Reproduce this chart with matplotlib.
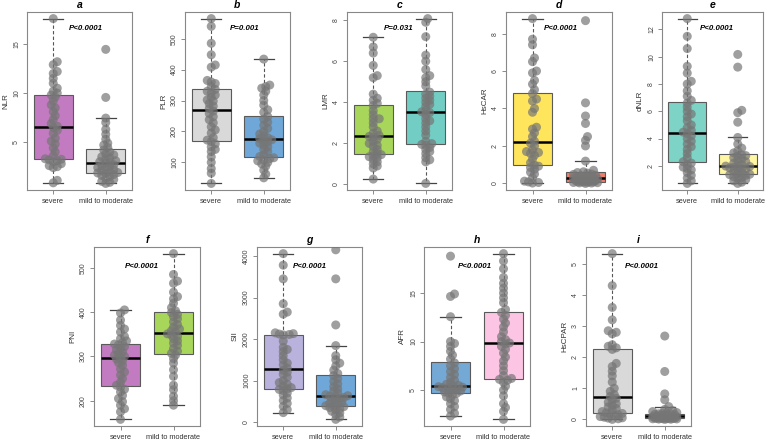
import numpy as np
import matplotlib
matplotlib.use('Agg')
from matplotlib import pyplot as plt

plt.rcParams['font.family'] = ['Liberation Sans', 'DejaVu Sans']

groups = ['severe', 'mild to moderate']

# values (severe, mild to moderate)
nlr_sev = [0.85, 1.1, 2.4, 2.5, 2.6, 2.8, 3.0, 3.1, 3.2, 3.25, 3.3, 3.6, 4.0, 4.4, 4.8, 5.1, 5.4, 5.9, 6.2, 6.5,
           6.62, 6.9, 7.3, 7.7, 8.1, 8.5, 8.8, 9.2, 9.6, 9.8, 10.0, 10.2, 10.5, 11.0, 11.5, 12.0, 12.2, 12.9, 13.2, 17.6]
nlr_mild = [0.79, 0.9, 1.0, 1.2, 1.3, 1.5, 1.6, 1.7, 1.8, 1.85, 1.9, 2.0, 2.1, 2.2, 2.3, 2.4, 2.5, 2.6, 2.7, 2.85,
            2.93, 3.0, 3.1, 3.3, 3.4, 3.5, 3.7, 3.8, 4.0, 4.2, 4.45, 4.7, 4.9, 5.3, 5.8, 6.3, 7.0, 7.45, 9.56, 14.46]

plr_sev = [32, 65, 80, 100, 118, 135, 142, 150, 160, 167, 172, 180, 195, 205, 215, 228, 238, 248, 258, 266,
           274, 282, 290, 298, 302, 310, 318, 325, 330, 336, 345, 355, 360, 365, 408, 415, 448, 485, 540, 565]
plr_mild = [50, 62, 75, 88, 95, 100, 105, 108, 112, 115, 119, 125, 135, 142, 150, 156, 162, 166, 170, 173,
            177, 180, 185, 192, 200, 210, 220, 230, 240, 248, 262, 270, 285, 300, 318, 330, 340, 345, 350, 434]

lmr_sev = [0.26, 0.8, 0.9, 1.0, 1.1, 1.2, 1.3, 1.35, 1.4, 1.45, 1.5, 1.6, 1.7, 1.85, 1.9, 2.0, 2.1, 2.2, 2.3, 2.34,
           2.38, 2.5, 2.6, 2.8, 3.0, 3.2, 3.2, 3.4, 3.6, 3.85, 3.95, 4.1, 4.2, 4.4, 5.2, 5.3, 5.8, 6.4, 6.7, 7.17]
lmr_mild = [0.05, 1.1, 1.2, 1.3, 1.5, 1.6, 1.7, 1.8, 1.9, 1.95, 1.99, 2.1, 2.4, 2.6, 2.8, 3.0, 3.1, 3.2, 3.4, 3.5,
            3.54, 3.6, 3.8, 3.9, 4.0, 4.1, 4.2, 4.3, 4.4, 4.5, 4.8, 5.0, 5.2, 5.3, 5.6, 6.0, 6.3, 7.2, 7.9, 8.08]

hscar_sev = [0.02, 0.05, 0.08, 0.12, 0.3, 0.5, 0.6, 0.75, 0.85, 0.92, 0.98, 1.1, 1.3, 1.5, 1.6, 1.65, 1.7, 1.8, 2.0, 2.15,
             2.25, 2.5, 2.7, 2.9, 3.0, 3.8, 4.0, 4.4, 4.5, 4.8, 5.0, 5.3, 5.5, 5.9, 6.0, 6.5, 6.7, 7.4, 7.7, 8.8]
hscar_mild = [0.0, 0.02, 0.03, 0.04, 0.05, 0.06, 0.07, 0.08, 0.08, 0.09, 0.1, 0.12, 0.14, 0.16, 0.18, 0.2, 0.22, 0.24,
              0.25, 0.26, 0.28, 0.3, 0.33, 0.36, 0.4, 0.44, 0.48, 0.5, 0.55, 0.58, 0.62, 0.7, 1.19, 2.0, 2.3, 2.5,
              3.2, 3.6, 4.3, 8.69]

dnlr_sev = [0.71, 0.9, 1.1, 1.3, 1.5, 1.7, 1.8, 1.9, 2.1, 2.2, 2.3, 2.6, 2.9, 3.2, 3.4, 3.6, 3.8, 4.0, 4.2, 4.35,
            4.47, 4.6, 4.8, 5.0, 5.3, 5.6, 5.8, 6.0, 6.3, 6.6, 6.8, 7.1, 7.5, 8.0, 8.2, 8.8, 9.3, 10.6, 11.5, 12.8]
dnlr_mild = [0.71, 0.8, 0.9, 1.0, 1.1, 1.15, 1.2, 1.3, 1.35, 1.38, 1.4, 1.5, 1.6, 1.7, 1.75, 1.8, 1.85, 1.9, 1.95,
             1.98, 2.02, 2.1, 2.2, 2.3, 2.4, 2.5, 2.6, 2.7, 2.75, 2.8, 2.95, 3.1, 3.3, 3.6, 4.08, 5.2, 5.9, 6.07,
             9.24, 10.17]

pni_sev = [158, 175, 182, 190, 198, 205, 212, 220, 226, 231, 235, 242, 250, 258, 265, 272, 280, 286, 290, 294,
           298, 300, 303, 306, 310, 315, 318, 322, 326, 328, 331, 335, 340, 345, 355, 362, 370, 382, 398, 405]
pni_mild = [190, 200, 210, 225, 235, 255, 270, 285, 295, 303, 307, 312, 318, 325, 330, 335, 340, 345, 348, 351,
            355, 358, 362, 366, 372, 378, 385, 390, 395, 399, 403, 410, 420, 430, 435, 445, 465, 470, 485, 532]

sii_sev = [228, 300, 380, 450, 520, 580, 650, 700, 760, 785, 800, 830, 870, 910, 950, 1000, 1080, 1150, 1200, 1250,
           1300, 1380, 1420, 1500, 1600, 1700, 1750, 1800, 1950, 2100, 2110, 2120, 2130, 2150, 2600, 2650, 2850,
           3450, 3780, 4058]
sii_mild = [65, 120, 180, 220, 260, 290, 320, 350, 370, 385, 395, 420, 450, 480, 510, 540, 570, 590, 610, 625,
            635, 660, 700, 750, 800, 850, 920, 980, 1050, 1120, 1170, 1250, 1350, 1420, 1500, 1600, 1842, 2340,
            3450, 4150]

afr_sev = [2.32, 2.6, 3.0, 3.3, 3.6, 3.9, 4.1, 4.3, 4.5, 4.65, 4.7, 4.8, 4.9, 5.0, 5.1, 5.2, 5.25, 5.3, 5.35, 5.42,
           5.48, 5.6, 5.8, 6.0, 6.3, 6.6, 6.9, 7.2, 7.5, 7.8, 8.2, 8.6, 9.0, 9.5, 9.8, 10.0, 12.56, 14.65, 14.9, 18.8]
afr_mild = [1.98, 2.8, 3.2, 3.6, 4.4, 5.0, 5.4, 5.8, 6.0, 6.1, 6.2, 6.5, 7.0, 7.5, 8.0, 8.4, 8.8, 9.2, 9.5, 9.75,
            9.85, 10.0, 10.2, 10.5, 11.0, 11.5, 11.9, 12.3, 12.7, 13.0, 13.3, 14.0, 14.5, 15.0, 15.5, 16.0, 16.6,
            17.5, 18.3, 19.06]

hscpar_sev = [0.0, 0.02, 0.04, 0.05, 0.07, 0.09, 0.12, 0.15, 0.17, 0.19, 0.21, 0.25, 0.3, 0.35, 0.4, 0.45, 0.5, 0.55,
              0.62, 0.68, 0.74, 0.8, 0.9, 1.0, 1.2, 1.4, 1.55, 1.7, 1.8, 2.25, 2.3, 2.35, 2.4, 2.75, 2.8, 2.85,
              3.2, 3.6, 4.3, 5.33]
hscpar_mild = [0.0, 0.005, 0.01, 0.015, 0.02, 0.022, 0.025, 0.028, 0.03, 0.032, 0.035, 0.04, 0.05, 0.06, 0.065,
               0.07, 0.08, 0.085, 0.09, 0.095, 0.105, 0.11, 0.12, 0.13, 0.14, 0.15, 0.16, 0.17, 0.18, 0.185, 0.2,
               0.22, 0.25, 0.28, 0.32, 0.41, 0.63, 0.82, 1.54, 2.68]

letters = ['a', 'b', 'c', 'd', 'e', 'f', 'g', 'h', 'i']
ylabels = ['NLR', 'PLR', 'LMR', 'HsCAR', 'dNLR', 'PNI', 'SII', 'AFR', 'HsCPAR']
pvalues = ['P<0.0001', 'P=0.001', 'P=0.031', 'P<0.0001', 'P<0.0001', 'P<0.0001', 'P<0.0001', 'P<0.0001', 'P<0.0001']
data = [(nlr_sev, nlr_mild), (plr_sev, plr_mild), (lmr_sev, lmr_mild), (hscar_sev, hscar_mild),
        (dnlr_sev, dnlr_mild), (pni_sev, pni_mild), (sii_sev, sii_mild), (afr_sev, afr_mild),
        (hscpar_sev, hscpar_mild)]
yticks = [[5, 10, 15], [100, 200, 300, 400, 500], [0, 2, 4, 6, 8], [0, 2, 4, 6, 8], [2, 4, 6, 8, 10, 12],
          [200, 300, 400, 500], [0, 1000, 2000, 3000, 4000], [5, 10, 15], [0, 1, 2, 3, 4, 5]]

# styling / layout
colors = [('#C27BC0', '#D9D9D9'), ('#D9D9D9', '#6FA8D8'), ('#A8D65A', '#72CEC4'), ('#FFE55C', '#EE7D6E'),
          ('#7DD3C5', '#FFF6A3'), ('#C27BC0', '#A8D65A'), ('#B8B2DD', '#6FA8D8'), ('#74A9D6', '#FCC5E3'),
          ('#D9D9D9', '#D9D9D9')]
# axes boxes in pixels: left, right, top, bottom
boxes_px = [(27, 132, 12, 190), (185, 290, 12, 190), (347, 452, 12, 190), (506, 612, 12, 190),
            (662, 763, 12, 190), (94, 200, 247, 426), (257, 362, 247, 426), (424, 530, 247, 426),
            (586, 691, 247, 426)]
ptext_x = [0.56, 0.57, 0.49, 0.52, 0.54, 0.45, 0.5, 0.48, 0.53]

W, H = 767, 441
fig = plt.figure(figsize=(W / 100, H / 100), dpi=100)


def swarm_x(ax, xc, vals, diam=9.0, maxoff=0.25):
    pts = ax.transData.transform(np.column_stack([np.full(len(vals), xc), vals]))
    ys = pts[:, 1]
    xpx = ax.transData.transform([[1, 0]])[0, 0] - ax.transData.transform([[0, 0]])[0, 0]
    dmin = diam * 0.45
    step = 2.0
    lim = maxoff * xpx
    cands = [0.0]
    j = 1
    while j * step <= lim:
        cands += [j * step, -j * step]
        j += 1
    placed = []
    offs = np.zeros(len(vals))
    for i in np.argsort(ys):
        best, bestd = 0.0, -1
        for o in cands:
            d = min([np.hypot(o - px, ys[i] - py) for px, py in placed] or [1e9])
            if d >= dmin:
                best = o
                break
            if d > bestd:
                best, bestd = o, d
        placed.append((best, ys[i]))
        offs[i] = best
    return xc + offs / xpx


for k in range(9):
    l, r, t, b = boxes_px[k]
    ax = fig.add_axes([l / W, 1 - b / H, (r - l) / W, (b - t) / H])
    sev, mild = data[k]
    bp = ax.boxplot([sev, mild], positions=[1, 2], widths=0.75, patch_artist=True, showfliers=False,
                    whis=1.5, capwidths=0.38,
                    boxprops=dict(edgecolor='#5a5a5a', linewidth=0.8),
                    whiskerprops=dict(color='#555555', linewidth=0.8, linestyle=(0, (3, 2))),
                    capprops=dict(color='#444444', linewidth=0.9),
                    medianprops=dict(color='black', linewidth=1.8))
    for patch, c in zip(bp['boxes'], colors[k]):
        patch.set_facecolor(c)
    wy = np.concatenate([w.get_ydata() for w in bp['whiskers']])
    lo, hi = wy.min(), wy.max()
    pad = 0.04 * (hi - lo)
    ax.set_ylim(lo - pad, hi + pad)
    ax.set_xlim(0.5, 2.5)

    for xc, vals in zip([1, 2], [sev, mild]):
        xs = swarm_x(ax, xc, vals)
        ax.scatter(xs, vals, s=42, color='#767676', alpha=0.7, edgecolors='none', zorder=4)

    ax.set_yticks(yticks[k])
    ax.set_xticks([1, 2])
    ax.set_xticklabels(groups, fontsize=5.3, color='#333333')
    ax.tick_params(axis='y', labelsize=5, labelcolor='#444444', color='#777777', length=3, width=0.6, pad=2)
    ax.tick_params(axis='x', color='#777777', length=3, width=0.6, pad=3)
    for lab in ax.get_yticklabels():
        lab.set_rotation(90)
        lab.set_va('center')
    for s in ax.spines.values():
        s.set_color('#888888')
        s.set_linewidth(0.8)
    ax.set_ylabel(ylabels[k], fontsize=5.8, color='#333333', labelpad=3)
    ax.set_title(letters[k], fontsize=7.5, fontweight='bold', style='italic', pad=3)
    ax.text(ptext_x[k], 0.905 if k < 5 else 0.89, pvalues[k], transform=ax.transAxes, ha='center', va='center',
            fontsize=5.7, fontweight='bold', style='italic', zorder=6)

fig.savefig('out.png', dpi=100)
